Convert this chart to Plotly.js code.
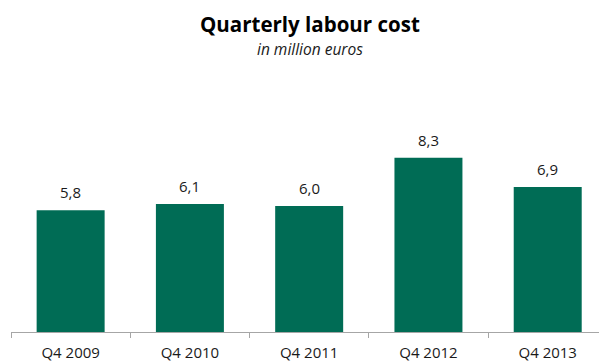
<!DOCTYPE html>
<html>
<head>
<meta charset="utf-8">
<script src="https://cdn.plot.ly/plotly-3.0.1.min.js"></script>
<style>html,body{margin:0;padding:0;background:#fff;}#chart{width:599px;height:363px;}</style>
</head>
<body>
<div id="chart"></div>
<script>
const categories = ["Q4 2009", "Q4 2010", "Q4 2011", "Q4 2012", "Q4 2013"];
const values = [5.8, 6.1, 6.0, 8.3, 6.9];
const titleText = "Quarterly labour cost";
const subtitleText = "in million euros";

const font = "Open Sans, Lato, sans-serif";
const valueAnnotations = categories.map(function(c, i){
  return {x: c, y: values[i], xref: "x", yref: "y", text: values[i].toFixed(1).replace(".", ","),
          showarrow: false, yanchor: "bottom", yshift: 6,
          font: {family: font, size: 15, color: "#1a1a1a"}};
});
Plotly.newPlot("chart", [{
  type: "bar",
  x: categories,
  y: values,
  width: 0.57,
  marker: {color: "#006c55"},
  hoverinfo: "none"
}], {
  width: 599, height: 363,
  separators: ",.",
  margin: {l: 11, r: 0, t: 122, b: 31},
  paper_bgcolor: "#fff", plot_bgcolor: "#fff",
  showlegend: false,
  xaxis: {
    type: "category",
    range: [-0.5, 4.43],
    showline: true, linecolor: "#a6a6a6", linewidth: 1,
    ticks: "outside", tickson: "boundaries", ticklen: 5, tickcolor: "#a6a6a6",
    ticklabelstandoff: 7,
    tickfont: {family: font, size: 15, color: "#1a1a1a"},
    showgrid: false, zeroline: false, fixedrange: true
  },
  yaxis: {
    range: [0, 10], visible: false, showgrid: false, zeroline: false, fixedrange: true
  },
  annotations: [
    {text: "<b>" + titleText + "</b>", xref: "paper", yref: "paper", x: 0.508, y: 1, xanchor: "center", yanchor: "middle",
     showarrow: false, font: {family: font, size: 20.5, color: "#000"}},
    {text: "<i>" + subtitleText + "</i>", xref: "paper", yref: "paper", x: 0.508, y: 1, xanchor: "center", yanchor: "middle",
     showarrow: false, font: {family: font, size: 15.5, color: "#1a1a1a"}}
  ].concat(valueAnnotations)
}, {displayModeBar: false, staticPlot: true}).then(function(gd){
  const ph = gd._fullLayout._size.h;
  const top = gd._fullLayout._size.t;
  Plotly.relayout(gd, {
    "annotations[0].y": 1 + (top - 24) / ph,
    "annotations[1].y": 1 + (top - 49) / ph
  });
});
</script>
</body>
</html>
